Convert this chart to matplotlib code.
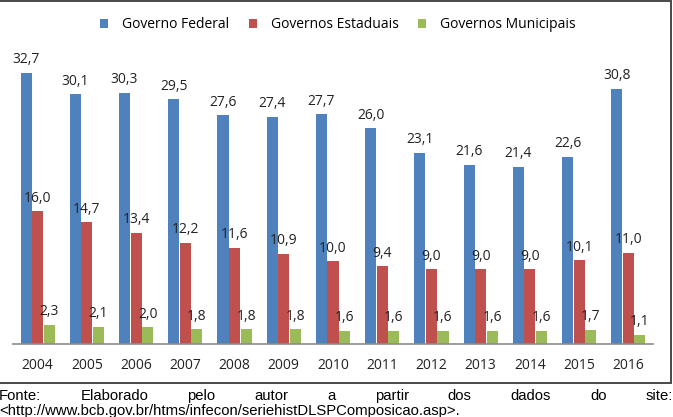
import numpy as np
import matplotlib.pyplot as plt
from matplotlib.patches import Rectangle

# Dados (% do PIB)
anos = ['2004', '2005', '2006', '2007', '2008', '2009', '2010',
        '2011', '2012', '2013', '2014', '2015', '2016']
federal = [32.7, 30.1, 30.3, 29.5, 27.6, 27.4, 27.7, 26.0, 23.1, 21.6, 21.4, 22.6, 30.8]
estaduais = [16.0, 14.7, 13.4, 12.2, 11.6, 10.9, 10.0, 9.4, 9.0, 9.0, 9.0, 10.1, 11.0]
municipais = [2.3, 2.1, 2.0, 1.8, 1.8, 1.8, 1.6, 1.6, 1.6, 1.6, 1.6, 1.7, 1.1]

series = [('Governo Federal', federal, '#4F81BD'),
          ('Governos Estaduais', estaduais, '#C0504D'),
          ('Governos Municipais', municipais, '#9BBB59')]

fonte_palavras = ['Fonte:', 'Elaborado', 'pelo', 'autor', 'a', 'partir',
                  'dos', 'dados', 'do', 'site:']
fonte_url = '<http://www.bcb.gov.br/htms/infecon/seriehistDLSPComposicao.asp>.'

W, H = 673, 417
fig = plt.figure(figsize=(W / 100, H / 100), dpi=100)

# Moldura do gráfico
fig.patches.append(Rectangle((-0.01, 1 - 383 / H), 671 / W + 0.01, 383 / H - 0.002,
                             transform=fig.transFigure, fill=False,
                             edgecolor='#3a3a3a', linewidth=1.3))

ax = fig.add_axes([13 / W, 1 - 344 / H, 640 / W, 304 / H])
x = np.arange(len(anos))
larg = 0.225
passo = 0.235

for i, (nome, vals, cor) in enumerate(series):
    pos = x + (i - 1) * passo
    barras = ax.bar(pos, vals, width=larg, color=cor, label=nome)
    for b, v in zip(barras, vals):
        ax.annotate(f'{v:.1f}'.replace('.', ','),
                    (b.get_x() + b.get_width() / 2, v),
                    xytext=(0, 4), textcoords='offset points',
                    ha='center', va='bottom', fontsize=10,
                    family='Open Sans', color='#222222', annotation_clip=False)

ax.set_xlim(-0.5, len(anos) - 0.5)
ax.set_ylim(0, 304 / 8.29)
ax.set_xticks(x)
ax.set_xticklabels(anos, family='Open Sans', fontsize=10, color='#222222')
ax.tick_params(axis='x', length=0, pad=10)
ax.set_yticks([])
for lado in ['top', 'right', 'left']:
    ax.spines[lado].set_visible(False)
ax.spines['bottom'].set_color('#8c8c8c')
ax.spines['bottom'].set_linewidth(1.2)

leg = fig.legend(loc='center', bbox_to_anchor=(338 / W, 1 - 25 / H), ncol=3,
                 frameon=False, prop={'family': 'Open Sans', 'size': 10},
                 handlelength=0.58, handleheight=0.58, handletextpad=1.0,
                 columnspacing=1.4)

# Texto da fonte (justificado)
fig.canvas.draw()
rend = fig.canvas.get_renderer()
props = dict(fontsize=10.7, family='Liberation Sans', color='black')
objs = [fig.text(0, 0, p, **props) for p in fonte_palavras]
larguras = [t.get_window_extent(rend).width for t in objs]
x0, x1 = -1, 673
espaco = (x1 - x0 - sum(larguras)) / (len(objs) - 1)
xc = x0
for t, w in zip(objs, larguras):
    t.set_position((xc / W, 1 - 400 / H))
    xc += w + espaco
fig.text(-1 / W, 1 - 415 / H, fonte_url, **props)

fig.savefig('out.png', dpi=100)
